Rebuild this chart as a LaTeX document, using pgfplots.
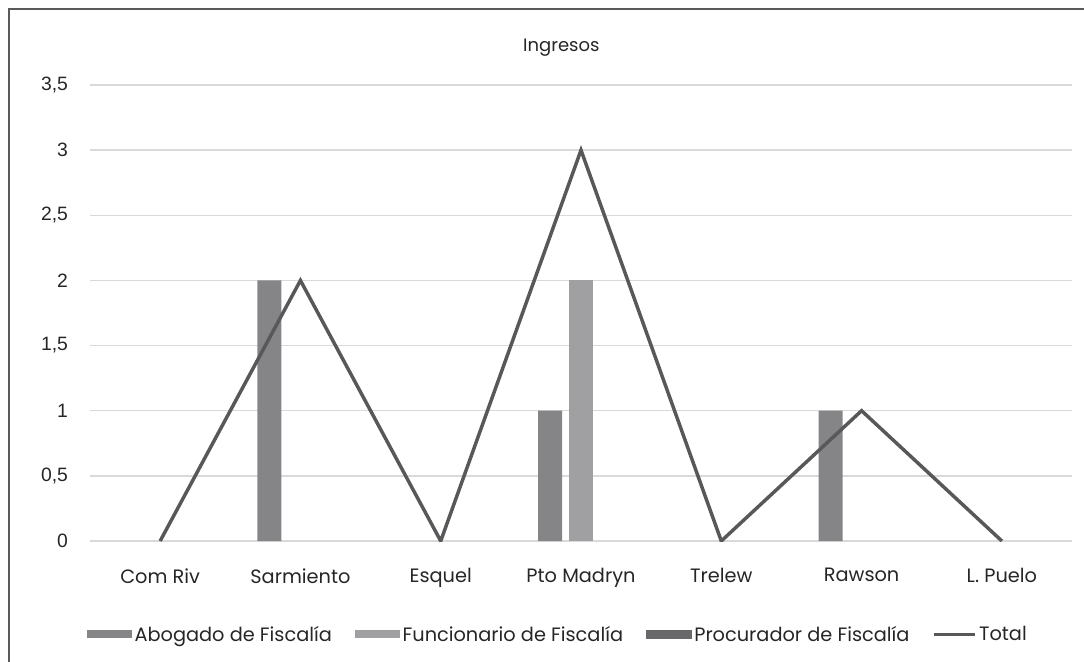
\documentclass[border=0pt]{standalone}
\usepackage{pgfplots}
\pgfplotsset{compat=1.18}
\usepackage{fontspec}
\setmainfont{Poppins}
\newfontfamily\arialf{Liberation Sans}
\definecolor{abog}{HTML}{858588}
\definecolor{func}{HTML}{A0A0A3}
\definecolor{proc}{HTML}{68686B}
\definecolor{tot}{HTML}{58585B}
\definecolor{gridc}{HTML}{D9D9D9}
\definecolor{framec}{HTML}{5A5A5A}
\begin{document}
\begin{tikzpicture}
\useasboundingbox (0,0) rectangle (813pt,495.75pt);
\draw[framec, line width=1.8pt] (6.75pt,-5pt) -- (6.75pt,489pt) -- (820pt,489pt);
\begin{axis}[
  at={(67.5pt,90pt)}, anchor=south west,
  scale only axis, width=736.5pt, height=342pt,
  xmin=-0.5, xmax=6.5, ymin=0, ymax=3.5,
  xtick={0,1,2,3,4,5,6},
  xticklabels={Com Riv,Sarmiento,Esquel,Pto Madryn,Trelew,Rawson,L. Puelo},
  ytick={0,0.5,1,1.5,2,2.5,3,3.5},
  yticklabels={0,{0,5},1,{1,5},2,{2,5},3,{3,5}},
  yticklabel style={font=\arialf\fontsize{14.5}{16}\selectfont, color=black!85, xshift=-13pt},
  xticklabel style={font=\fontsize{14.5}{16}\selectfont, color=black!85, yshift=-17pt},
  ymajorgrids, grid style={gridc, line width=1.1pt},
  axis line style={draw=none}, tick style={draw=none},
  title={Ingresos},
  title style={font=\fontsize{13.5}{15}\selectfont, color=black!85, at={(0.48,1)}, anchor=south, yshift=12pt},
  legend columns=4,
  legend style={draw=none, fill=none, at={(0.4766,-0.205)}, anchor=center,
    font=\fontsize{14.5}{16}\selectfont, text=black!85,
    /tikz/every even column/.append style={column sep=15pt}},
  legend cell align=left,
]
\addplot[ybar, bar width=18pt, bar shift=-23.25pt, fill=abog, draw=none,
  legend image code/.code={\fill[abog] (0pt,-3pt) rectangle (34pt,3pt);}]
  coordinates {(1,2) (3,1) (5,1)};
\addlegendentry{Abogado de Fiscalía}
\addplot[ybar, bar width=18pt, bar shift=0pt, fill=func, draw=none,
  legend image code/.code={\fill[func] (0pt,-3pt) rectangle (34pt,3pt);}]
  coordinates {(3,2)};
\addlegendentry{Funcionario de Fiscalía}
\addlegendimage{legend image code/.code={\fill[proc] (0pt,-3pt) rectangle (34pt,3pt);}}
\addlegendentry{Procurador de Fiscalía}
\addplot[tot, line width=2.6pt, mark=none,
  legend image code/.code={\draw[tot, line width=2.2pt] (0pt,0pt) -- (31pt,0pt);}]
  coordinates {(0,0) (1,2) (2,0) (3,3) (4,0) (5,1) (6,0)};
\addlegendentry{Total}
\end{axis}
\end{tikzpicture}
\end{document}
